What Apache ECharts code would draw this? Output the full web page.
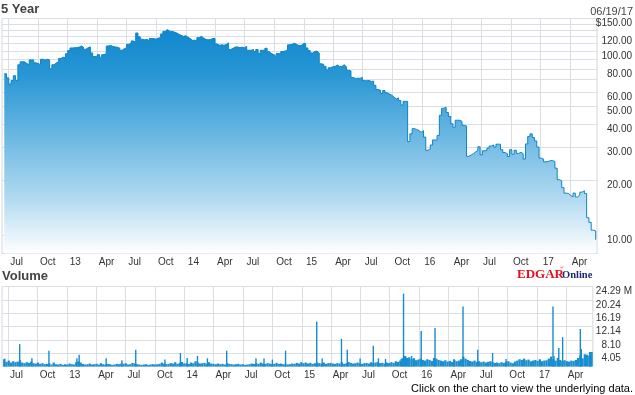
<!DOCTYPE html>
<html><head><meta charset="utf-8">
<script src="https://cdn.jsdelivr.net/npm/echarts@6/dist/echarts.min.js"></script>
<style>html,body{margin:0;padding:0;background:#fff}#c{width:635px;height:395px}</style>
</head><body><div id="c"></div>
<script>
// ---------- data ----------
// weekly closing prices, first week = 2012-06-19, step 7 days
const priceStart = '2012-06-19';
const priceWeekly = [
 75.3,71.6,66.3,69.2,73.5,69.2,84.3,87.5,87.5,85.6,
 84.3,89.6,89.6,86.4,85.6,84.5,90.3,89.4,90.3,89.6,
 80.3,84.3,86.4,87.5,91.2,92.7,92.0,96.7,100.6,104.0,
 104.4,104.4,104.9,106.6,104.9,102.3,104.4,105.3,97.7,93.5,
 93.1,95.6,92.7,95.6,96.9,106.6,107.3,106.0,105.3,104.9,
 103.6,101.0,103.1,104.4,108.8,110.3,113.5,111.6,125.3,119.5,
 116.1,115.1,115.6,114.0,117.0,117.0,116.1,117.6,118.3,123.8,
 127.9,130.9,128.3,127.9,126.9,125.6,123.4,121.8,120.2,121.2,
 119.1,117.0,114.5,114.5,113.5,118.3,120.2,117.6,115.6,115.1,
 115.6,117.0,117.0,109.3,107.6,108.1,107.6,108.6,110.8,102.0,
 103.6,105.3,105.3,104.4,104.9,104.4,106.0,101.0,101.0,102.0,
 99.4,102.0,97.2,101.0,101.0,103.6,99.1,96.9,95.6,93.5,
 96.9,96.9,99.4,100.1,101.3,108.1,108.8,110.3,108.8,107.1,
 107.1,109.8,109.8,104.0,100.6,97.7,99.4,100.1,97.7,85.4,
 84.7,82.6,79.1,81.3,82.2,82.6,84.1,82.6,82.6,84.3,
 82.3,78.7,78.1,72.0,71.1,71.3,71.1,72.0,69.2,69.0,
 69.3,68.5,68.8,65.3,62.0,61.4,58.9,61.1,59.5,58.5,
 57.7,56.3,55.0,55.8,54.0,51.0,53.4,53.4,32.3,35.6,
 38.0,37.6,37.1,36.3,37.0,34.2,29.0,29.5,31.0,33.0,
 33.0,34.9,44.9,49.0,49.6,46.5,44.3,40.4,38.7,42.2,
 42.2,41.6,39.6,39.3,26.9,27.3,27.8,28.4,28.9,30.3,
 27.4,28.8,29.0,29.8,30.6,31.0,30.2,31.3,31.3,29.2,
 28.2,27.8,26.8,29.2,27.6,29.0,27.9,28.3,27.8,26.0,
 31.4,34.5,35.6,34.0,32.6,30.2,26.3,26.0,25.1,25.2,
 25.5,25.5,25.2,23.2,20.1,19.8,18.2,17.0,16.9,16.5,
 16.2,17.0,16.2,16.6,17.2,17.5,16.9,12.5,11.8,10.7,
 10.6,9.5
];
// weekly typical volume (millions), same weeks as prices
const volumeWeekly = [
 2.2,1.4,1.8,1.2,1.6,1.3,1.5,1.9,
 1.2,1.0,1.3,1.1,1.5,1.0,0.9,1.2,0.8,1.0,
 0.7,0.8,1.0,0.6,1.2,0.7,0.6,0.8,0.5,0.7,0.6,0.9,0.7,0.6,1.3,1.6,1.2,
 0.8,0.6,0.7,0.9,0.6,0.7,0.8,0.6,1.0,0.7,0.6,0.8,0.7,0.5,0.6,0.8,0.7,0.9,
 0.8,1.0,0.6,0.7,1.1,0.9,0.7,0.6,0.5,0.6,0.7,0.5,0.6,0.7,0.6,
 0.7,0.8,1.2,0.9,0.7,0.8,1.0,0.9,1.3,0.8,1.1,1.4,0.9,1.0,0.8,1.2,1.0,1.6,1.2,0.9,
 1.0,1.1,0.8,1.3,0.9,0.8,0.7,0.9,0.7,0.8,0.6,1.0,0.8,0.7,
 0.6,0.7,0.8,0.6,0.7,0.5,0.6,0.7,0.9,0.8,1.0,0.8,1.2,0.9,0.8,1.0,0.9,0.7,0.8,1.1,
 0.8,0.9,0.7,0.8,0.6,0.7,0.9,0.8,1.1,0.9,1.3,1.0,1.2,0.9,1.1,0.8,1.0,1.2,
 1.0,0.9,1.2,0.8,1.0,1.1,0.9,0.8,1.0,0.9,1.3,0.8,1.0,1.4,1.1,0.9,1.0,1.2,0.9,0.8,
 1.0,1.1,0.9,1.3,1.0,1.2,1.4,1.0,1.1,0.9,1.2,1.0,1.3,1.1,1.6,1.4,1.8,2.5,
 3.2,2.6,2.8,2.2,2.5,1.9,2.1,2.4,2.0,1.8,2.2,2.0,1.7,2.6,2.4,2.0,1.8,1.6,1.9,
 1.5,1.7,1.4,2.0,1.6,1.8,2.2,3.0,2.4,2.0,1.7,1.5,1.8,1.4,1.6,1.3,1.5,1.2,1.4,1.6,
 1.3,1.1,1.2,1.0,1.3,1.1,1.4,1.6,1.2,1.0,
 1.5,1.8,2.2,2.0,2.4,1.9,2.1,1.6,1.8,2.0,1.7,2.2,1.6,1.8,
 1.9,2.4,3.0,2.2,1.8,2.6,2.0,1.7,1.9,1.6,1.5,1.8,1.7,2.0,2.6,3.4,2.5,3.7,3.6,3.2,4.4
];
// single-day volume spikes (millions)
const spikeDates = [
 '2012-06-20','2012-08-06','2012-09-13','2012-11-05','2013-01-31','2013-02-07','2013-05-02',
 '2013-06-20','2013-08-02','2013-11-01','2013-12-19','2014-01-09','2014-02-10','2014-03-13',
 '2014-05-12','2014-08-11','2014-09-05','2014-10-01','2014-11-11','2015-02-16','2015-03-05',
 '2015-05-04','2015-05-22','2015-07-01','2015-08-11','2015-08-27','2015-09-18','2015-11-06',
 '2015-11-13','2015-11-20','2015-11-30','2015-12-08','2015-12-15','2016-01-07','2016-02-19',
 '2016-04-18','2016-05-16','2016-07-01','2016-08-16','2016-09-27','2017-02-20','2017-02-23',
 '2017-03-10','2017-03-22','2017-05-16','2017-05-19','2017-06-14','2017-06-16'
];
const spikeVolumes = [
 2.4,6.8,2.5,4.8,2.5,3.6,2.5,
 1.9,5.1,2.1,4.1,2.6,3.2,2.5,
 4.8,2.5,2.4,2.1,4.8,13.7,2.4,
 8.4,5.1,2.4,6.3,2.5,2.3,2.3,
 22.1,3.0,2.2,3.2,2.5,10.8,11.7,
 2.3,18.2,5.1,4.1,2.3,18.2,3.2,
 5.6,8.9,11.4,5.3,4.4,4.4
];
const priceLabelValues = [150,120,100,80,60,50,40,30,20,10];
const priceGridValues = [10,20,30,40,50,60,70,80,90,100,110,120,130,140,150];
const quarterStarts = [
 '2012-07-01','2012-10-01','2013-01-01','2013-04-01','2013-07-01','2013-10-01',
 '2014-01-01','2014-04-01','2014-07-01','2014-10-01','2015-01-01','2015-04-01',
 '2015-07-01','2015-10-01','2016-01-01','2016-04-01','2016-07-01','2016-10-01',
 '2017-01-01','2017-04-01'
];
const volumeMax = 24.29;
const axisStart = '2012-06-12';
const axisEnd = '2017-06-24';

// ---------- build ----------
function ts(s){ const p = s.split('-').map(Number); return new Date(p[0], p[1]-1, p[2]).getTime(); }
function weekTs(i){ const p = priceStart.split('-').map(Number); return new Date(p[0], p[1]-1, p[2] + 7*i).getTime(); }
const priceData = priceWeekly.map((v,i)=>[weekTs(i), v]);
const volData = volumeWeekly.map((v,i)=>[weekTs(i), v]);
const spikeData = spikeDates.map((d,i)=>[ts(d), spikeVolumes[i]]);
const qTs = quarterStarts.map(ts);
const MON = {0:null,3:'Apr',6:'Jul',9:'Oct'};
function fmtQ(v){ const d = new Date(v); const m = d.getMonth(); return m===0 ? String(d.getFullYear()).slice(2) : MON[m]; }

const FONT = '"Liberation Sans", Arial, sans-serif';
const SERIF = '"Liberation Serif", "Times New Roman", serif';
const GRID_C = '#dcdee6';
const LBL_C = '#333333';

function xAx(gi, showLbl, showSplit){
  return {
    type:'value', gridIndex:gi, min:ts(axisStart), max:ts(axisEnd),
    axisLine:{show:false}, axisTick:{show:false, customValues:qTs},
    splitLine:{show:showSplit, lineStyle:{color:GRID_C, width:1}},
    axisLabel:{show:showLbl, customValues:qTs, formatter:fmtQ, align:'left', padding:[0,0,0,2],
      margin:4, color:LBL_C, fontSize:10, fontFamily:FONT, hideOverlap:false}
  };
}

const chart = echarts.init(document.getElementById('c'), null, {renderer:'canvas'});
chart.setOption({
  animation:false,
  backgroundColor:'#ffffff',
  grid:[
    {left:2, right:37, top:18.5, height:235, show:true, borderColor:'#d3d6de', borderWidth:1},
    {left:2, right:37, top:286.5, height:80, show:true, borderColor:'#d3d6de', borderWidth:1}
  ],
  xAxis:[ xAx(0,true,true), xAx(1,true,true), xAx(1,false,false) ],
  yAxis:[
    {type:'log', gridIndex:0, position:'right', min:8, max:150.2, logBase:10,
     axisLine:{show:false}, axisTick:{show:false, customValues:priceGridValues},
     splitLine:{show:true, lineStyle:{color:GRID_C, width:1}},
     axisLabel:{customValues:priceLabelValues, formatter:v=>(v>=149.5?'$':'')+v.toFixed(2),
       align:'right', verticalAlign:'top', margin:35, color:LBL_C, fontSize:10, fontFamily:FONT}},
    {type:'value', gridIndex:1, position:'right', min:0, max:volumeMax, interval:volumeMax/6,
     axisLine:{show:false}, axisTick:{show:false},
     splitLine:{show:true, lineStyle:{color:GRID_C, width:1}},
     axisLabel:{showMinLabel:false, formatter:v=>(v>=volumeMax-0.01 ? v.toFixed(2)+' M' : (v<10?'  ':'')+v.toFixed(2)),
       align:'left', verticalAlign:'top', margin:3, color:LBL_C, fontSize:10, fontFamily:FONT}}
  ],
  series:[
    {type:'line', xAxisIndex:0, yAxisIndex:0, data:priceData, step:'end', showSymbol:false, silent:true,
     lineStyle:{color:'#0b84c8', width:1},
     areaStyle:{origin:'start', color:new echarts.graphic.LinearGradient(0,0,0,1,[
       {offset:0, color:'#0f87cd'},{offset:0.2, color:'#2896d4'},{offset:0.45, color:'#64b4e1'},
       {offset:0.75, color:'#b0d9f0'},{offset:1, color:'#ffffff'}]), opacity:1}},
    {type:'bar', xAxisIndex:1, yAxisIndex:1, data:volData, barWidth:2.3, silent:true,
     itemStyle:{color:'#1a8fd0'}},
    {type:'bar', xAxisIndex:2, yAxisIndex:1, data:spikeData, barWidth:1.4, silent:true,
     itemStyle:{color:'#168bcd'}}
  ],
  graphic:[
    {type:'text', silent:true, style:{x:1, y:9.5, text:'5 Year', align:'left', verticalAlign:'middle',
      font:'bold 13px '+FONT, fill:'#444'}},
    {type:'text', silent:true, style:{x:633, y:11.5, text:'06/19/17', align:'right', verticalAlign:'middle',
      font:'11px '+FONT, fill:'#444'}},
    {type:'text', silent:true, style:{x:2, y:276.5, text:'Volume', align:'left', verticalAlign:'middle',
      font:'bold 13px '+FONT, fill:'#444'}},
    {type:'text', silent:true, style:{x:517, y:281, text:'EDGAR', align:'left', verticalAlign:'bottom',
      font:'bold 13px '+SERIF, fill:'#e5101e'}},
    {type:'text', silent:true, style:{x:560, y:268, text:'®', align:'left', verticalAlign:'middle',
      font:'5px '+SERIF, fill:'#e5101e'}},
    {type:'text', silent:true, style:{x:562, y:281, text:'Online', align:'left', verticalAlign:'bottom',
      font:'bold 10.5px '+SERIF, fill:'#1c2b6e'}},
    {type:'text', silent:true, style:{x:633, y:388.5, text:'Click on the chart to view the underlying data.',
      align:'right', verticalAlign:'middle', font:'11px '+FONT, fill:'#000'}}
  ]
});
</script>
</body></html>
